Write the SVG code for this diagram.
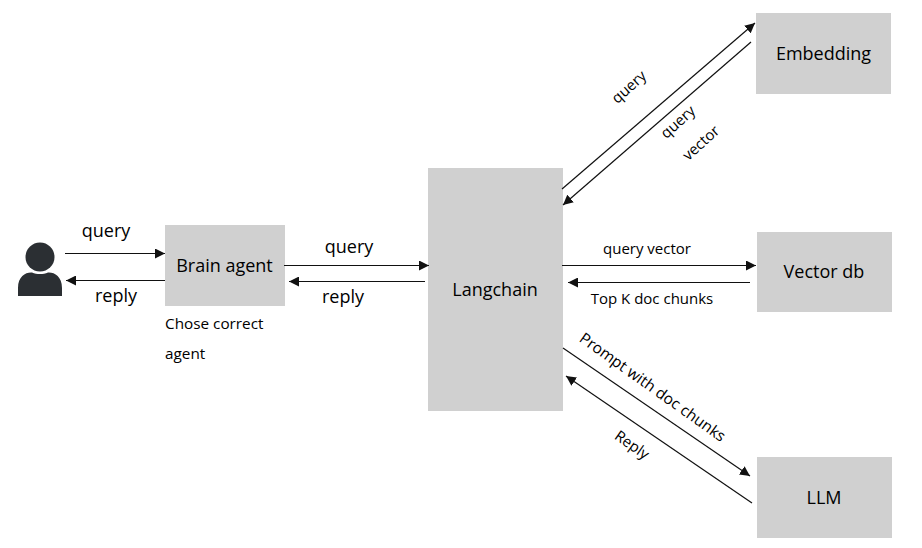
<svg xmlns="http://www.w3.org/2000/svg" width="922" height="548" viewBox="0 0 922 548">
<style>
.box{fill:#d0d0d0}
text{font-family:"Open Sans","Noto Sans","Liberation Sans",sans-serif;fill:#000}
.n{font-size:18px;text-anchor:middle}
.l{font-size:18px;text-anchor:middle}
.s{font-size:15px;text-anchor:middle}
.c{font-size:15.300px}
#connectors line{stroke:#111;stroke-width:1.2;fill:none;marker-end:url(#arrow)}
</style>
<defs>
<marker id="arrow" viewBox="0 0 10 10" refX="10" refY="5" markerUnits="userSpaceOnUse" markerWidth="10" markerHeight="10" orient="auto"><path d="M0 0L10 5L0 10z" fill="#111"/></marker>
</defs>
<rect width="922" height="548" fill="#fff"/>
<g id="user">
<circle cx="40" cy="257" r="14.500" fill="#2b2f33"/>
<path d="M18 296V288C18 276 26 272 32 272.500C37 274.500 43 274.500 48 272.500C54 272 62 276 62 288V296Z" fill="#2b2f33"/>
</g>
<g id="brain-agent"><rect class="box" x="165" y="225" width="120" height="81"/><text class="n" x="224.500" y="271.500">Brain agent</text></g>
<g id="langchain"><rect class="box" x="428" y="168" width="135" height="243"/><text class="n" x="495" y="295.500">Langchain</text></g>
<g id="embedding"><rect class="box" x="756" y="13" width="135" height="81"/><text class="n" x="823.500" y="59.500">Embedding</text></g>
<g id="vector-db"><rect class="box" x="757" y="232" width="135" height="80"/><text class="n" x="824" y="277.500">Vector db</text></g>
<g id="llm"><rect class="box" x="757" y="457" width="135" height="81"/><text class="n" x="824" y="503.500">LLM</text></g>
<g id="connectors">
<line x1="65" y1="253.500" x2="165" y2="253.500"/>
<line x1="165" y1="280.500" x2="66" y2="280.500"/>
<line x1="284" y1="265.500" x2="429" y2="265.500"/>
<line x1="425" y1="281.500" x2="289" y2="281.500"/>
<line x1="562" y1="189" x2="755" y2="23"/>
<line x1="751" y1="42" x2="563" y2="205"/>
<line x1="562" y1="265.500" x2="756" y2="265.500"/>
<line x1="750" y1="282.500" x2="568" y2="282.500"/>
<line x1="563" y1="348" x2="750" y2="476"/>
<line x1="752" y1="503" x2="566" y2="376"/>
</g>
<g id="labels">
<text class="l" x="106" y="237">query</text>
<text class="l" x="116" y="302">reply</text>
<text class="l" x="349" y="253">query</text>
<text class="l" x="343" y="303">reply</text>
<text class="c" x="165" y="329">Chose correct</text>
<text class="c" x="165" y="359">agent</text>
<text class="s" transform="translate(629 87) rotate(-42)" x="0" y="5">query</text>
<text class="s" transform="translate(678 122) rotate(-42)" x="0" y="5">query</text>
<text class="s" transform="translate(701 143) rotate(-42)" x="0" y="5">vector</text>
<text class="s" x="647" y="254">query vector</text>
<text class="s" x="652" y="304">Top K doc chunks</text>
<text class="s" style="font-size:15.500px" transform="translate(652.500 387.500) rotate(35.500)" x="0" y="5">Prompt with doc chunks</text>
<text class="s" transform="translate(632 445) rotate(35)" x="0" y="5">Reply</text>
</g>
</svg>
